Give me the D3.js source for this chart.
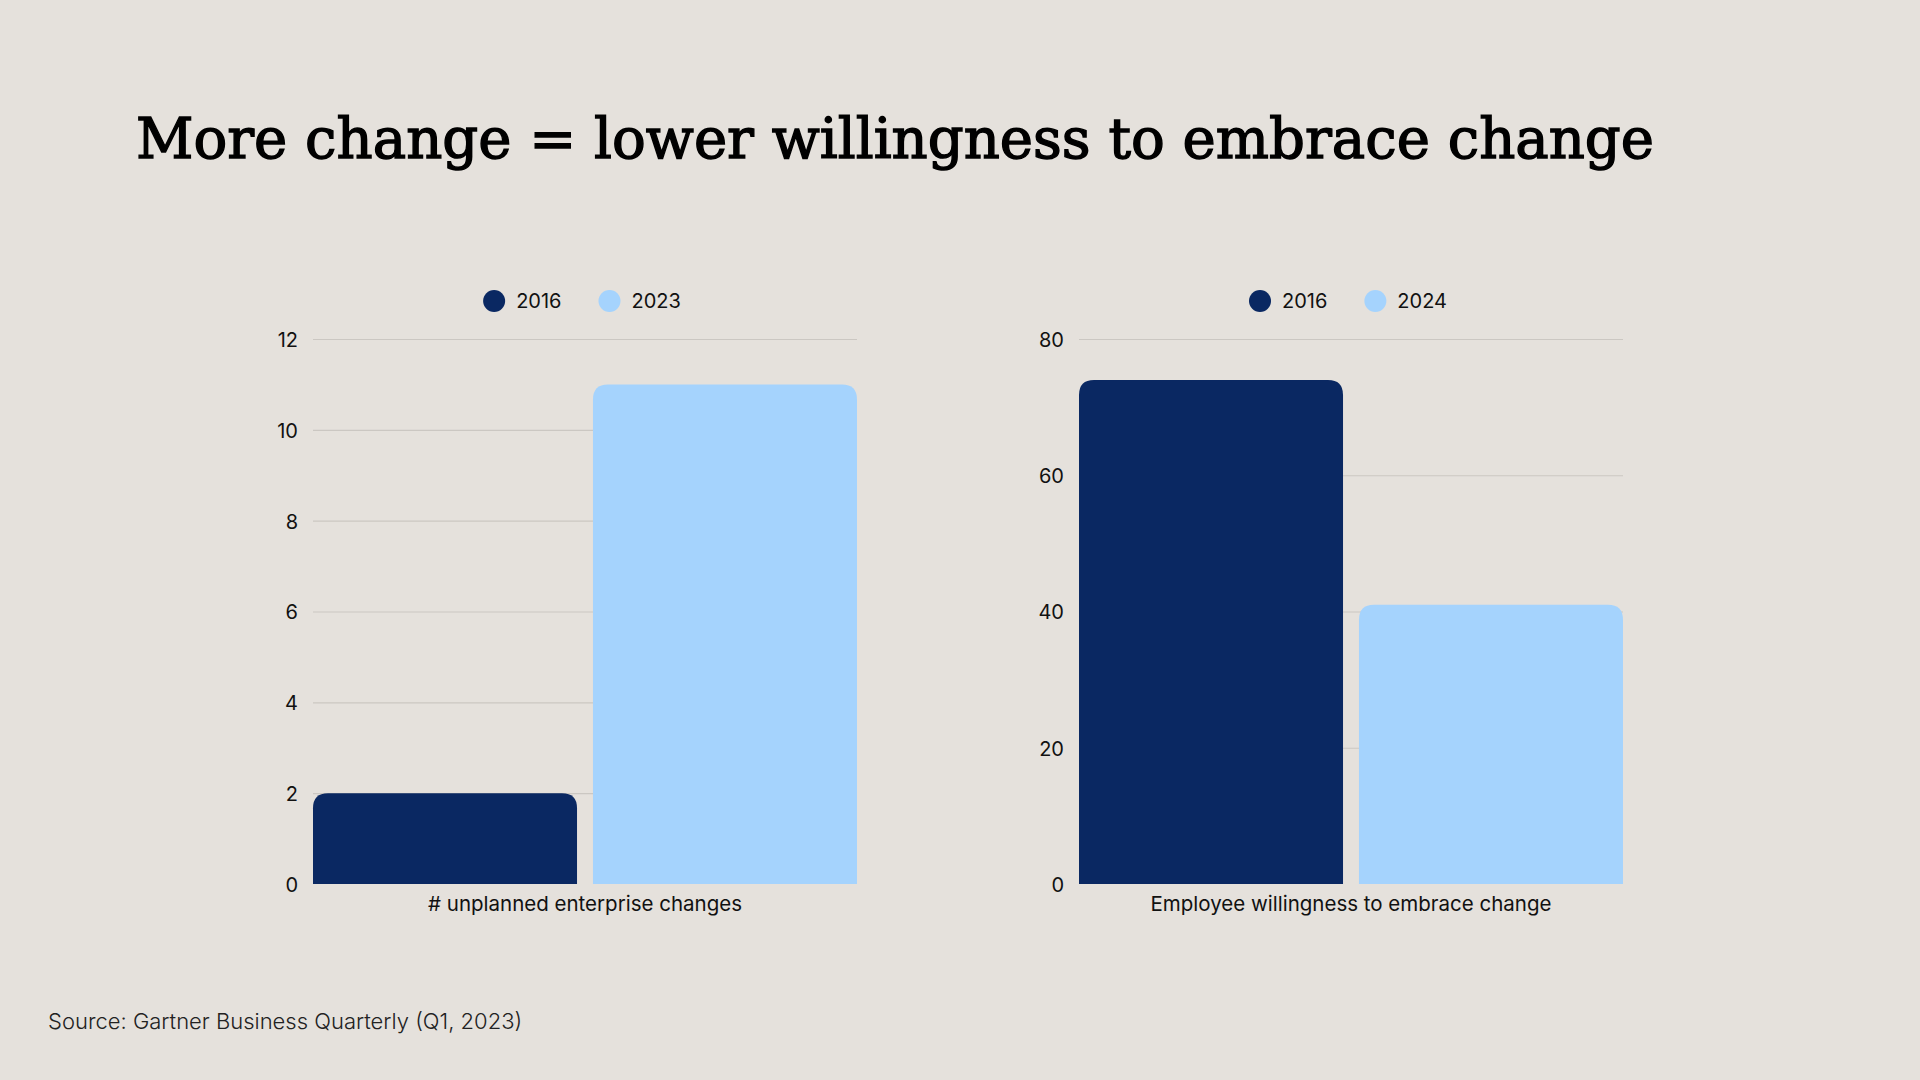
<!DOCTYPE html>
<html>
<head>
<meta charset="utf-8">
<script src="https://cdn.jsdelivr.net/npm/d3@7"></script>
<style>
  html, body { margin: 0; padding: 0; background: #e5e1dc; }
  svg { display: block; }
  .tick text { font-family: Inter, "Noto Sans", sans-serif; }
</style>
</head>
<body>
<div id="chart"></div>
<script>
// data
const titleText = "More change = lower willingness to embrace change";
const sourceText = "Source: Gartner Business Quarterly (Q1, 2023)";

const leftCategory = "# unplanned enterprise changes";
const leftSeries = ["2016", "2023"];
const leftValues = [2, 11];
const leftTicks = [0, 2, 4, 6, 8, 10, 12];

const rightCategory = "Employee willingness to embrace change";
const rightSeries = ["2016", "2024"];
const rightValues = [74, 41];
const rightTicks = [0, 20, 40, 60, 80];

const colors = ["#0a2862", "#a5d3fd"];

const svgWidth = 1920;
const svgHeight = 1080;

const svg = d3.select("#chart")
  .append("svg")
  .attr("width", svgWidth)
  .attr("height", svgHeight);

svg.append("rect")
  .attr("width", svgWidth)
  .attr("height", svgHeight)
  .attr("fill", "#e5e1dc");

// title
svg.append("text")
  .attr("x", 136)
  .attr("y", 158)
  .attr("font-family", "'DejaVu Serif', 'Liberation Serif', serif")
  .attr("font-size", 56)
  .attr("fill", "#000")
  .attr("stroke", "#000")
  .attr("stroke-width", 1.4)
  .attr("textLength", 1518)
  .attr("lengthAdjust", "spacingAndGlyphs")
  .text(titleText);

// source
svg.append("text")
  .attr("x", 48)
  .attr("y", 1029)
  .attr("font-family", "Inter, 'Noto Sans', sans-serif")
  .attr("font-weight", 300)
  .attr("font-size", 22)
  .attr("fill", "#222")
  .text(sourceText);

// bar with rounded top corners
function topRounded(x, y, w, h, r) {
  r = Math.min(r, h, w / 2);
  return `M${x},${y + h}V${y + r}Q${x},${y} ${x + r},${y}H${x + w - r}Q${x + w},${y} ${x + w},${y + r}V${y + h}Z`;
}

function drawPanel(left, right, category, series, values, ticks) {
  const top = 339;
  const bottom = 884;

  const y = d3.scaleLinear()
    .domain([0, d3.max(ticks)])
    .range([bottom, top]);

  const x0 = d3.scaleBand()
    .domain([category])
    .range([left, right])
    .padding(0);

  const x1 = d3.scaleBand()
    .domain(series)
    .range([0, x0.bandwidth()])
    .paddingInner(0.057);

  const g = svg.append("g");

  // gridlines
  g.append("g")
    .attr("transform", `translate(${left},0)`)
    .call(d3.axisLeft(y).tickValues(ticks).tickSize(-(right - left)).tickFormat(""))
    .call(a => a.select(".domain").remove())
    .call(a => a.selectAll(".tick line").attr("stroke", "#cbc7c2").attr("stroke-width", 1.2))
    .call(a => a.selectAll(".tick").filter(d => d === 0).remove());

  // y labels
  g.append("g")
    .attr("transform", `translate(${left - 15},1)`)
    .call(d3.axisLeft(y).tickValues(ticks).tickSize(0).tickPadding(0))
    .call(a => a.select(".domain").remove())
    .call(a => a.selectAll(".tick text").attr("font-size", 20).attr("fill", "#111"));

  // bars
  g.selectAll("path.bar")
    .data(values)
    .enter()
    .append("path")
    .attr("class", "bar")
    .attr("fill", (d, i) => colors[i])
    .attr("d", (d, i) => {
      const bx = x0(category) + x1(series[i]);
      return topRounded(bx, y(d), x1.bandwidth(), bottom - y(d), 15);
    });

  // x label
  g.append("g")
    .attr("transform", `translate(0,${bottom})`)
    .call(d3.axisBottom(x0).tickSize(0).tickPadding(12))
    .call(a => a.select(".domain").remove())
    .call(a => a.selectAll(".tick text").attr("font-size", 20.5).attr("fill", "#111"));

  // legend
  const legend = g.append("g");
  const items = legend.selectAll("g")
    .data(series)
    .enter()
    .append("g");
  items.append("circle")
    .attr("r", 11)
    .attr("cy", 0)
    .attr("fill", (d, i) => colors[i]);
  items.append("text")
    .attr("x", 22)
    .attr("dy", "0.35em")
    .attr("font-family", "Inter, 'Noto Sans', sans-serif")
    .attr("font-size", 20)
    .attr("fill", "#111")
    .text(d => d);
  let offset = 0;
  items.attr("transform", function() {
    const w = this.getBBox().width;
    const t = `translate(${offset + 11},0)`;
    offset += w + 37;
    return t;
  });
  const total = offset - 37;
  legend.attr("transform", `translate(${(left + right) / 2 - total / 2 - 3},301)`);
}

drawPanel(313, 857, leftCategory, leftSeries, leftValues, leftTicks);
drawPanel(1079, 1623, rightCategory, rightSeries, rightValues, rightTicks);
</script>
</body>
</html>
